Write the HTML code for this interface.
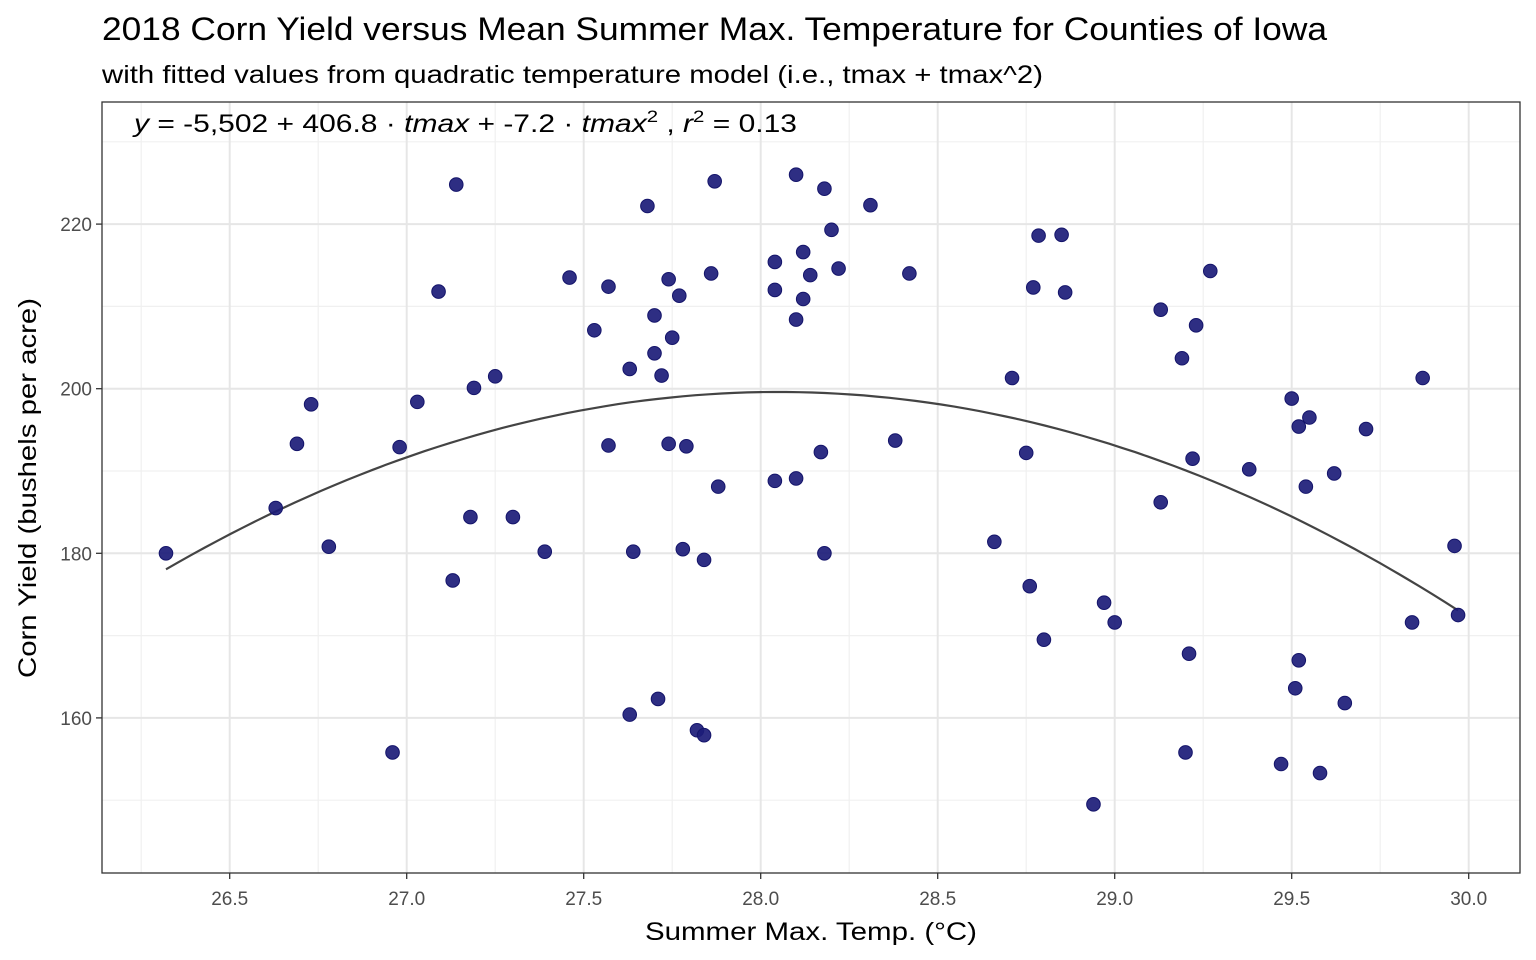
<!DOCTYPE html>
<html><head><meta charset="utf-8"><style>
html,body{margin:0;padding:0;background:#fff;}
svg{display:block;font-family:"Liberation Sans",Arial,sans-serif;}
</style></head><body>
<svg id="chart" width="1536" height="960" viewBox="0 0 1536 960">
<text x="102" y="40" font-size="32" textLength="1225" lengthAdjust="spacingAndGlyphs" fill="#000">2018 Corn Yield versus Mean Summer Max. Temperature for Counties of Iowa</text>
<text x="102" y="83" font-size="25" textLength="941" lengthAdjust="spacingAndGlyphs" fill="#000">with fitted values from quadratic temperature model (i.e., tmax + tmax^2)</text>
<g id="grid"></g>
<g id="curve"></g>
<g id="points"></g>
<rect x="102" y="102" width="1418" height="771" fill="none" stroke="#333" stroke-width="1.3"/>
<g id="axes"></g>
<text x="134" y="132" font-size="25" textLength="663" lengthAdjust="spacingAndGlyphs" fill="#000"><tspan font-style="italic">y</tspan> = -5,502 + 406.8 ·  <tspan font-style="italic">tmax</tspan> + -7.2 ·  <tspan font-style="italic">tmax</tspan><tspan dy="-10" font-size="17">2</tspan><tspan dy="10"> ,  </tspan><tspan font-style="italic">r</tspan><tspan dy="-10" font-size="17">2</tspan><tspan dy="10"> = 0.13</tspan></text>
<text x="811" y="940" font-size="25" textLength="332" lengthAdjust="spacingAndGlyphs" text-anchor="middle" fill="#000">Summer Max. Temp. (°C)</text>
<text transform="translate(36,488) rotate(-90)" font-size="25" textLength="380" lengthAdjust="spacingAndGlyphs" text-anchor="middle" fill="#000">Corn Yield (bushels per acre)</text>
</svg>
<script>
const tmax=[27.14,27.09,27.25,27.19,27.03,26.73,26.69,26.98,26.32,26.63,26.78,27.18,27.30,27.13,26.96,27.87,28.10,28.18,27.68,28.20,28.12,28.04,28.22,27.46,27.86,28.14,27.57,27.74,27.77,28.04,28.12,28.10,27.70,27.53,27.75,27.70,27.63,27.72,27.57,27.74,27.79,28.17,27.88,28.04,28.10,27.39,27.64,27.78,27.84,28.18,27.71,27.63,27.82,27.84,28.31,28.785,28.85,28.42,28.77,28.86,29.27,29.13,29.23,29.19,28.71,28.38,28.75,29.22,29.13,28.66,28.76,28.97,29.00,28.80,29.21,29.20,28.94,29.87,29.50,29.55,29.52,29.71,29.38,29.62,29.54,29.96,29.97,29.84,29.52,29.51,29.65,29.47,29.58];
const yieldVals=[224.8,211.8,201.5,200.1,198.4,198.1,193.3,192.9,180.0,185.5,180.8,184.4,184.4,176.7,155.8,225.2,226.0,224.3,222.2,219.3,216.6,215.4,214.6,213.5,214.0,213.8,212.4,213.3,211.3,212.0,210.9,208.4,208.9,207.1,206.2,204.3,202.4,201.6,193.1,193.3,193.0,192.3,188.1,188.8,189.1,180.2,180.2,180.5,179.2,180.0,162.3,160.4,158.5,157.9,222.3,218.6,218.7,214.0,212.3,211.7,214.3,209.6,207.7,203.7,201.3,193.7,192.2,191.5,186.2,181.4,176.0,174.0,171.6,169.5,167.8,155.8,149.5,201.3,198.8,196.5,195.4,195.1,190.2,189.7,188.1,180.9,172.5,171.6,167.0,163.6,161.8,154.4,153.3];
const curveVertex=[28.05,199.6];
const curveCurvature=[-7.2];
const xTicks=[26.5,27.0,27.5,28.0,28.5,29.0,29.5,30.0];
const xTickLabels=["26.5","27.0","27.5","28.0","28.5","29.0","29.5","30.0"];
const yTicks=[160,180,200,220];
const yTickLabels=["160","180","200","220"];
const xMinor=[26.25,26.75,27.25,27.75,28.25,28.75,29.25,29.75];
const yMinor=[150,170,190,210,230];

const NS="http://www.w3.org/2000/svg";
const X=v=>760.7+(v-28)*354;
const Y=v=>388.7-(v-200)*8.23;
function mk(tag,attrs,parent){const e=document.createElementNS(NS,tag);for(const k in attrs)e.setAttribute(k,attrs[k]);parent.appendChild(e);return e;}
const grid=document.getElementById('grid');
mk('rect',{x:102,y:102,width:1418,height:771,fill:'#fff'},grid);
xMinor.forEach(v=>{const l=mk('line',{x1:X(v),x2:X(v),y1:102,y2:873,stroke:'#f0f0f0','stroke-width':1.2},grid);

});
yMinor.forEach(v=>{if(Y(v)<102)return;const l=mk('line',{x1:102,x2:1520,y1:Y(v),y2:Y(v),stroke:'#f0f0f0','stroke-width':1.2},grid);

});
xTicks.forEach(v=>{const l=mk('line',{x1:X(v),x2:X(v),y1:102,y2:873,stroke:'#e6e6e6','stroke-width':2},grid);

});
yTicks.forEach(v=>{const l=mk('line',{x1:102,x2:1520,y1:Y(v),y2:Y(v),stroke:'#e6e6e6','stroke-width':2},grid);

});
let mn=Math.min(...tmax),mx=Math.max(...tmax);let d='';
for(let i=0;i<=100;i++){const t=mn+(mx-mn)*i/100;const v=curveVertex[1]+curveCurvature[0]*(t-curveVertex[0])**2;d+=(i?'L':'M')+X(t).toFixed(1)+','+Y(v).toFixed(1);}
const cp=mk('path',{d:d,fill:'none',stroke:'#444','stroke-width':2.2},document.getElementById('curve'));


const pg=document.getElementById('points');
tmax.forEach((t,i)=>{const c=mk('circle',{cx:X(t),cy:Y(yieldVals[i]),r:6.8,fill:'#1c1c78','fill-opacity':0.92,stroke:'#14146a','stroke-width':1},pg);

});
const ax=document.getElementById('axes');
xTicks.forEach((v,i)=>{mk('line',{x1:X(v),x2:X(v),y1:873,y2:879,stroke:'#333','stroke-width':1.3},ax);
const t=mk('text',{x:X(v),y:905,'font-size':19,'text-anchor':'middle',fill:'#4d4d4d'},ax);t.textContent=xTickLabels[i];

});
yTicks.forEach((v,i)=>{mk('line',{x1:96,x2:102,y1:Y(v),y2:Y(v),stroke:'#333','stroke-width':1.3},ax);
const t=mk('text',{x:92,y:Y(v)+7,'font-size':19,'text-anchor':'end',fill:'#4d4d4d'},ax);t.textContent=yTickLabels[i];

});
</script>
</body></html>
